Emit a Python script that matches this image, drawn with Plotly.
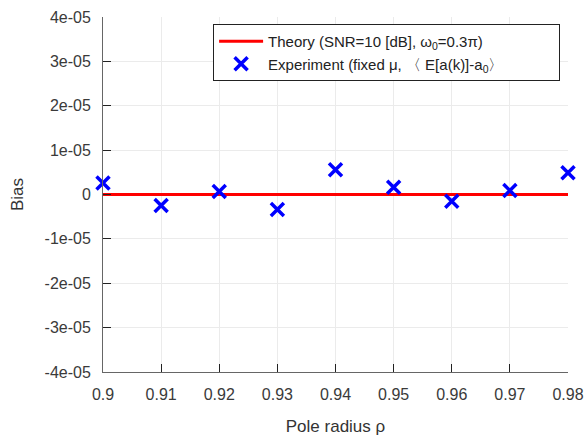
import plotly.graph_objects as go

rho = [0.90, 0.91, 0.92, 0.93, 0.94, 0.95, 0.96, 0.97, 0.98]
theory = [0, 0, 0, 0, 0, 0, 0, 0, 0]
experiment = [2.6e-6, -2.5e-6, 0.7e-6, -3.4e-6, 5.6e-6, 1.65e-6, -1.5e-6, 0.9e-6, 4.9e-6]
xticks = [0.90, 0.91, 0.92, 0.93, 0.94, 0.95, 0.96, 0.97, 0.98]
xticklabels = ["0.9", "0.91", "0.92", "0.93", "0.94", "0.95", "0.96", "0.97", "0.98"]
yticks = [-4e-5, -3e-5, -2e-5, -1e-5, 0, 1e-5, 2e-5, 3e-5, 4e-5]
yticklabels = ["-4e-05", "-3e-05", "-2e-05", "-1e-05", "0", "1e-05", "2e-05", "3e-05", "4e-05"]

pad = "&nbsp;" * 12

fig = go.Figure()
fig.add_trace(go.Scatter(
    x=rho, y=theory, mode="lines",
    line=dict(color="#ff0000", width=3),
    name="Theory (SNR=10 [dB], ω<sub>0</sub>=0.3π)",
    cliponaxis=False,
))
fig.add_trace(go.Scatter(
    x=rho, y=experiment, mode="markers",
    marker=dict(symbol="x-thin-open", size=13, color="#0000ff",
                line=dict(color="#0000ff", width=3.5)),
    name="Experiment (fixed μ, 〈 E[a(k)]-a<sub>0</sub>〉" + pad,
    cliponaxis=False,
))

axis_font = dict(family="Liberation Sans, Arial, sans-serif", size=16, color="#3a3a3a")
fig.update_layout(
    width=587, height=436,
    margin=dict(l=103, r=19, t=17, b=64),
    paper_bgcolor="white", plot_bgcolor="white",
    font=dict(family="Liberation Sans, Arial, sans-serif", size=15, color="#333333"),
    showlegend=True,
    legend=dict(
        x=0.983, y=0.98, xanchor="right", yanchor="top",
        bgcolor="white", bordercolor="#222222", borderwidth=1,
        font=dict(size=15, color="#222222"),
        tracegroupgap=0, itemwidth=44,
    ),
    xaxis=dict(
        range=[0.90, 0.98], tickvals=xticks, ticktext=xticklabels,
        showgrid=True, gridcolor="#ebebeb", gridwidth=1,
        ticks="inside", ticklen=8, tickcolor="#222222",
        showline=True, linecolor="#666666", linewidth=1,
        zeroline=False, tickfont=axis_font, ticklabelstandoff=8,
        automargin=False,
        title=dict(text="Pole radius ρ", font=dict(size=17, color="#333333"), standoff=24),
    ),
    yaxis=dict(
        range=[-4e-5, 4e-5], tickvals=yticks, ticktext=yticklabels,
        showgrid=True, gridcolor="#ebebeb", gridwidth=1,
        ticks="inside", ticklen=8, tickcolor="#222222",
        showline=True, linecolor="#666666", linewidth=1,
        zeroline=False, tickfont=axis_font, ticklabelstandoff=8,
        automargin=False,
        title=dict(text="Bias", font=dict(size=17, color="#333333"), standoff=16),
    ),
)
fig.write_html("out.html")
